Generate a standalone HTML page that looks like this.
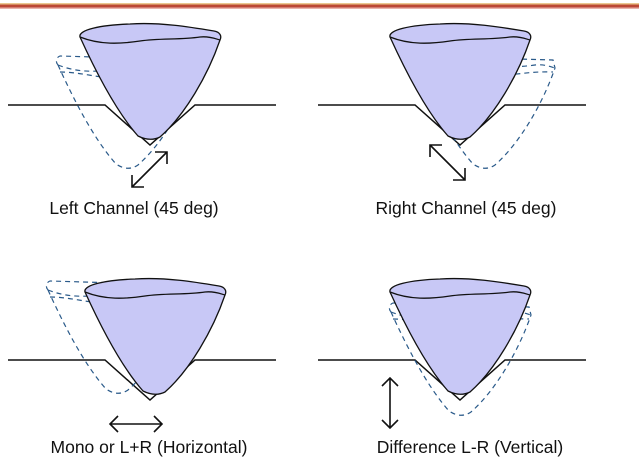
<!DOCTYPE html>
<html><head><style>
html,body{margin:0;padding:0;background:#fff;}
svg{display:block;}
text{font-family:"Liberation Sans",sans-serif;font-size:17.5px;fill:#111;}
</style></head><body>
<svg width="639" height="472" viewBox="0 0 639 472" xmlns="http://www.w3.org/2000/svg">
<defs>
<linearGradient id="bar" x1="0" y1="0" x2="0" y2="1">
<stop offset="0" stop-color="#f6e7a8"/><stop offset="0.5" stop-color="#b02a1a"/><stop offset="1" stop-color="#f3d0c8"/>
</linearGradient>
<g id="cone">
<path d="M-70,-103 C-55,-70 -35,-30 -12,-4 Q0,2 10,-3 C35,-25 58,-65 70,-100 C72,-104 70,-108 64,-109 C40,-113 10,-118 -20,-116 C-50,-115 -72,-110 -70,-103 Z" fill="#c8c8f6" stroke="#111" stroke-width="1.3"/>
<path d="M-70,-103 C-50,-95 -30,-96 -10,-99 C10,-102 30,-100 50,-103 C60,-104 66,-101 70,-100" fill="none" stroke="#111" stroke-width="1.3"/>
</g>
<g id="dash" fill="none" stroke="#2a5a8a" stroke-width="1.2" stroke-dasharray="5,4">
<path d="M-70,-103 C-55,-70 -35,-30 -12,-4 Q0,4 10,-3 C35,-25 58,-65 70,-100 L68,-108 L-68,-112 C-73,-110 -72,-105 -70,-103 Z"/>
<path d="M-70,-103 C-50,-95 -30,-96 -10,-99 C10,-102 30,-100 50,-103 C60,-104 66,-101 70,-100"/>
<path d="M-68,-96 C-45,-96 -25,-88 0,-90 C20,-92 45,-97 68,-96"/>
</g>
<g id="groove">
<path d="M-142,0 H-45 L0,40 L45,0 H126" fill="none" stroke="#111" stroke-width="1.5"/>
</g>
</defs>
<rect x="0" y="3" width="639" height="6" fill="url(#bar)"/>

<!-- Panel 1 -->
<use href="#groove" x="150" y="105"/>
<use href="#dash" x="128" y="168"/>
<use href="#cone" x="150" y="140"/>
<path d="M132,187 L167,152 M155,152 H167 V164 M132,175 V187 H144" fill="none" stroke="#111" stroke-width="1.6"/>
<text x="134" y="214" text-anchor="middle">Left Channel (45 deg)</text>

<!-- Panel 2 -->
<use href="#groove" x="460" y="105"/>
<use href="#dash" x="485" y="168"/>
<use href="#cone" x="460" y="140"/>
<path d="M430,145 L465,180 M430,157 V145 H442 M453,180 H465 V168" fill="none" stroke="#111" stroke-width="1.6"/>
<text x="466" y="214" text-anchor="middle">Right Channel (45 deg)</text>

<!-- Panel 3 -->
<use href="#groove" x="150" y="360"/>
<use href="#dash" x="118" y="393"/>
<use href="#cone" x="155" y="395"/>
<path d="M110,424 H162 M118,416 L110,424 L118,432 M154,416 L162,424 L154,432" fill="none" stroke="#111" stroke-width="1.6"/>
<text x="149" y="453" text-anchor="middle">Mono or L+R (Horizontal)</text>

<!-- Panel 4 -->
<use href="#groove" x="460" y="360"/>
<use href="#dash" x="461" y="415"/>
<use href="#cone" x="460" y="395"/>
<path d="M390,378 V428 M382,386 L390,378 L398,386 M382,420 L390,428 L398,420" fill="none" stroke="#111" stroke-width="1.6"/>
<text x="470" y="453" text-anchor="middle">Difference L-R (Vertical)</text>
</svg>
</body></html>
